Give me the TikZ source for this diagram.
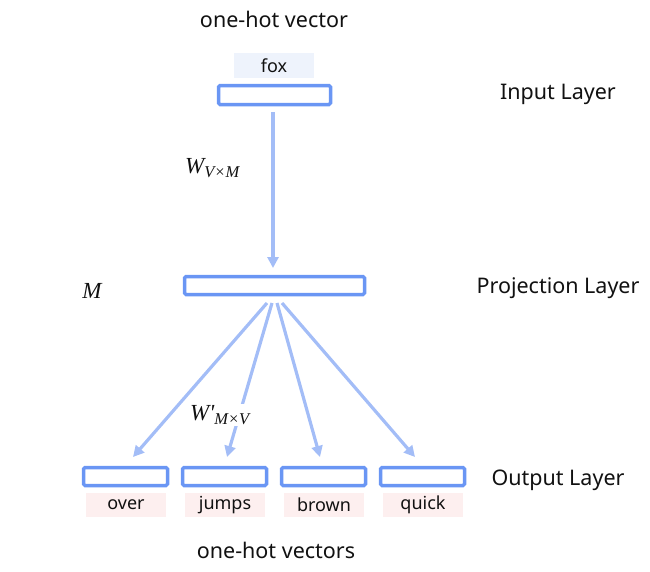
\documentclass[tikz,border=0pt]{standalone}
\usepackage{fontspec}
\setmainfont{Noto Sans}
\newfontfamily\serfont{Liberation Serif}
\usetikzlibrary{arrows.meta}
\definecolor{boxblue}{HTML}{6A96F4}
\definecolor{arrblue}{HTML}{A3BDF7}
\definecolor{foxbg}{HTML}{EEF3FC}
\definecolor{wordbg}{HTML}{FDEFEF}
\definecolor{txt}{HTML}{111111}
\newcommand{\subtext}[1]{\raisebox{-0.45ex}{\fontsize{16.5}{16.5}\selectfont #1}}
\tikzset{
  layerbox/.style={draw=boxblue, line width=3.5pt, rounded corners=1.5pt, fill=white, inner sep=0pt},
  wordlabel/.style={fill=wordbg, minimum width=80pt, minimum height=24pt, inner sep=0pt, text=txt, font=\fontsize{18}{20}\selectfont},
  inlabel/.style={fill=foxbg, minimum width=80pt, minimum height=25pt, inner sep=0pt, text=txt, font=\fontsize{18}{20}\selectfont},
  heading/.style={text=txt, font=\fontsize{21.5}{24}\selectfont, inner sep=0pt},
  mathlabel/.style={text=txt, font=\serfont\itshape\fontsize{23}{26}\selectfont, inner sep=0pt},
  conn/.style={draw=arrblue, line width=3.2pt, -{Triangle[length=11pt,width=11pt]}},
}
\begin{document}
\begin{tikzpicture}[x=1pt,y=-1pt]
\useasboundingbox (0,0) rectangle (650,571);
% texts
\node[heading] (top) at (274,19) {one-hot vector};
\node[heading] (bot) at (276,550) {one-hot vectors};
\node[heading] (inl) at (558,94) {Input Layer};
\node[heading] (prl) at (558,288) {Projection Layer};
\node[heading] (oul) at (558,480) {Output Layer};
\node[inlabel] (fox) at (274,65.5) {fox};
% boxes
\node[layerbox, minimum width=112pt, minimum height=19pt] (inbox) at (274.5,95) {};
\node[layerbox, minimum width=180pt, minimum height=18pt] (proj) at (274.5,285.5) {};
\node[layerbox, minimum width=84pt, minimum height=18pt] (out1) at (125.5,476.5) {};
\node[layerbox, minimum width=84pt, minimum height=18pt] (out2) at (224.5,476.5) {};
\node[layerbox, minimum width=84pt, minimum height=18pt] (out3) at (323.5,476.5) {};
\node[layerbox, minimum width=84pt, minimum height=18pt] (out4) at (422.5,476.5) {};
\node[wordlabel] (w1) at (126,505) {over};
\node[wordlabel] (w2) at (225,505) {jumps};
\node[wordlabel] (w3) at (324,505) {brown};
\node[wordlabel] (w4) at (423,505) {quick};
% connector coordinates
\coordinate (s0) at (273,112);
\coordinate (t0) at (273,268);
\coordinate (s1) at (267,303);
\coordinate (s2) at (272,303);
\coordinate (s3) at (277,303);
\coordinate (s4) at (282,303);
\coordinate (t1) at (133,457);
\coordinate (t2) at (227,457);
\coordinate (t3) at (320,457);
\coordinate (t4) at (415,457);
\draw[conn] (s0) -- (t0);
\draw[conn] (s1) -- (t1);
\draw[conn] (s2) -- (t2);
\draw[conn] (s3) -- (t3);
\draw[conn] (s4) -- (t4);
% math labels
\node[mathlabel, anchor=west] (wvm) at (185,168) {W\subtext{V×M}};
\node[mathlabel] (m) at (92,291) {M};
\node[mathlabel, anchor=west, fill=white, inner sep=1pt] (wmv) at (189,415) {W'\subtext{M×V}};
\end{tikzpicture}
\end{document}
